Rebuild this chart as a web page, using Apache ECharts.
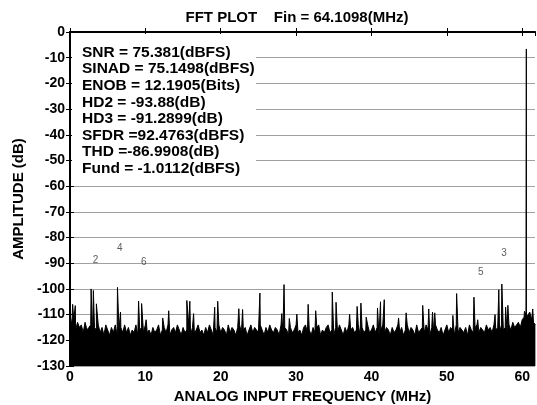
<!DOCTYPE html>
<html>
<head>
<meta charset="utf-8">
<script src="https://cdn.jsdelivr.net/npm/echarts@6/dist/echarts.min.js"></script>
<style>
html,body{margin:0;padding:0;background:#fff;}
#c{width:537px;height:405px;}
</style>
</head>
<body>
<div id="c"></div>
<script>
// Title and axis texts
const titleText = 'FFT PLOT    Fin = 64.1098(MHz)';
const xName = 'ANALOG INPUT FREQUENCY (MHz)';
const yName = 'AMPLITUDE (dB)';
const xTicks = [0, 10, 20, 30, 40, 50, 60];
const yTicks = [0, -10, -20, -30, -40, -50, -60, -70, -80, -90, -100, -110, -120, -130];

// Noise floor, one value every 0.25 MHz starting at 0 MHz
const floorStep = 0.25;
const noiseFloor = [
  -110, -114, -112, -116, -113, -115, -114, -117, -113, -116,
  -115, -114, -118, -115, -116, -114, -117, -115, -118, -114,
  -116, -118, -115, -117, -114, -118, -116, -115, -117, -114,
  -117, -115, -118, -116, -117, -114, -118, -116, -115, -117,
  -114, -117, -116, -118, -115, -117, -116, -114, -118, -116,
  -115, -117, -114, -118, -116, -115, -117, -114, -116, -118,
  -115, -117, -116, -114, -118, -115, -117, -116, -114, -117,
  -116, -118, -115, -117, -114, -116, -118, -115, -117, -114,
  -117, -115, -116, -118, -114, -117, -115, -116, -118, -115,
  -114, -117, -116, -115, -118, -116, -114, -117, -115, -116,
  -117, -114, -116, -118, -115, -117, -114, -116, -117, -115,
  -116, -118, -114, -117, -115, -116, -118, -115, -117, -116,
  -114, -117, -116, -118, -115, -114, -117, -116, -118, -115,
  -117, -115, -114, -118, -116, -117, -115, -114, -117, -116,
  -118, -115, -117, -114, -116, -118, -115, -117, -114, -116,
  -115, -117, -116, -114, -118, -115, -117, -116, -114, -117,
  -116, -114, -117, -115, -118, -116, -114, -117, -115, -116,
  -118, -115, -117, -116, -114, -117, -115, -118, -116, -114,
  -117, -115, -116, -118, -114, -117, -116, -115, -117, -114,
  -116, -118, -115, -117, -114, -116, -117, -115, -118, -116,
  -114, -117, -115, -116, -118, -114, -117, -115, -116, -117,
  -115, -118, -114, -116, -117, -115, -114, -117, -115, -116,
  -117, -114, -116, -115, -117, -114, -116, -115, -117, -114,
  -116, -115, -117, -114, -116, -113, -115, -114, -113, -115,
  -112, -111, -110, -111, -109, -112, -113, -114
];

// Spurs and the fundamental: [frequency MHz, amplitude dB]
const spurs = [
  [0.35, -106], [0.7, -106.5], [2.8, -100], [3.1, -100.6], [3.5, -105.8],
  [6.3, -99.4], [6.7, -109], [9.1, -104.7], [9.5, -105.7], [10.1, -112],
  [12.3, -111.3], [13.1, -108.5], [15.5, -104.5], [15.9, -104.8], [16.4, -109.6],
  [19.2, -107.1], [19.6, -104.8], [22.4, -107.7], [22.9, -108], [25.2, -101.6],
  [28.1, -109.6], [28.4, -98.3], [29.1, -111.5], [30.1, -109.8], [31.6, -106],
  [32.6, -108.5], [34.8, -101.2], [35.3, -105.2], [37.1, -109.8], [38.1, -106.8],
  [38.6, -105.5], [39.3, -111], [40.8, -107.4], [41.2, -105], [41.7, -104.2],
  [43.6, -111.3], [44.6, -109.3], [46.8, -106.4], [47.6, -107.8], [48.1, -109],
  [48.4, -109.3], [50.8, -110.3], [51.3, -101.8], [53.6, -103.2], [54.1, -112],
  [56.4, -110], [56.9, -100.3], [57.3, -98.1], [57.8, -107.1], [58.1, -106.4],
  [60.3, -108.7], [60.53, -110], [60.55, -6.6], [60.57, -111], [60.8, -110], [61.4, -107.8]
];

// Harmonic markers: [frequency MHz, amplitude dB, label]
const harmonicMarks = [
  [3.4, -88.8, '2'], [6.6, -84.0, '4'], [9.8, -89.7, '6'],
  [57.6, -86.2, '3'], [54.5, -93.6, '5']
];

// Measurement annotation lines
const statLines = [
  'SNR = 75.381(dBFS)',
  'SINAD = 75.1498(dBFS)',
  'ENOB = 12.1905(Bits)',
  'HD2 = -93.88(dB)',
  'HD3 = -91.2899(dB)',
  'SFDR =92.4763(dBFS)',
  'THD =-86.9908(dB)',
  'Fund = -1.0112(dBFS)'
];

const xMin = 0, xMax = 61.7, yMin = -130, yMax = 0;

const spectrum = noiseFloor.map((v, i) => [i * floorStep, v]).concat(spurs)
  .sort((a, b) => a[0] - b[0]);

const FONT = '"Liberation Sans", Arial, Helvetica, sans-serif';

const chart = echarts.init(document.getElementById('c'), null, {renderer: 'canvas'});

const statGraphics = [{
  type: 'rect', z: 100,
  shape: {x: 72, y: 34, width: 184, height: 151},
  style: {fill: '#ffffff'}
}].concat(statLines.map((t, i) => ({
  type: 'text', z: 101,
  style: {
    x: 82, y: 52.5 + i * 16.6,
    text: t, fill: '#000',
    font: 'bold 15.5px ' + FONT,
    textVerticalAlign: 'middle', verticalAlign: 'middle'
  }
})));

const axisLine = {show: true, lineStyle: {color: '#000', width: 2}};

chart.setOption({
  animation: false,
  backgroundColor: '#fff',
  title: {
    text: titleText, left: 292, top: 5, textAlign: 'center',
    textStyle: {fontFamily: FONT, fontWeight: 'bold', fontSize: 15, color: '#000'}
  },
  grid: {left: 70, right: 2, top: 32, bottom: 39, containLabel: false, outerBoundsMode: 'none'},
  xAxis: [{
    type: 'value', min: xMin, max: xMax, interval: 10, position: 'bottom',
    axisLine: axisLine,
    axisTick: {show: true, inside: true, length: 4, lineStyle: {color: '#000'}},
    axisLabel: {
      fontFamily: FONT, fontWeight: 'bold', fontSize: 14, color: '#000', margin: 4,
      showMaxLabel: false,
      formatter: v => xTicks.indexOf(v) >= 0 ? String(v) : ''
    },
    splitLine: {show: false},
    name: xName, nameLocation: 'middle', nameGap: 20,
    nameTextStyle: {fontFamily: FONT, fontWeight: 'bold', fontSize: 15, color: '#000'}
  }, {
    type: 'value', min: xMin, max: xMax, interval: 10, position: 'top',
    axisLine: {show: true, lineStyle: {color: '#000', width: 1.5}},
    axisTick: {show: true, inside: true, length: 4, lineStyle: {color: '#000'}},
    axisLabel: {show: false}, splitLine: {show: false}
  }],
  yAxis: [{
    type: 'value', min: yMin, max: yMax, interval: 10, position: 'left',
    axisLine: axisLine,
    axisTick: {show: true, inside: true, length: 4, lineStyle: {color: '#000'}},
    axisLabel: {
      fontFamily: FONT, fontWeight: 'bold', fontSize: 14, color: '#000', margin: 5,
      formatter: v => yTicks.indexOf(v) >= 0 ? String(v) : ''
    },
    splitLine: {show: true, lineStyle: {color: '#a0a0a0', width: 1}},
    name: yName, nameLocation: 'middle', nameGap: 37, nameRotate: 90,
    nameTextStyle: {fontFamily: FONT, fontWeight: 'bold', fontSize: 15, color: '#000'}
  }, {
    type: 'value', min: yMin, max: yMax, interval: 10, position: 'right',
    axisLine: {show: true, lineStyle: {color: '#000', width: 1.5}},
    axisTick: {show: true, inside: true, length: 4, lineStyle: {color: '#000'}},
    axisLabel: {show: false}, splitLine: {show: false}
  }],
  series: [{
    type: 'line',
    data: spectrum,
    showSymbol: false, symbol: 'none',
    sampling: null,
    lineStyle: {color: '#000', width: 1},
    areaStyle: {color: '#000', opacity: 1, origin: 'start'},
    z: 3
  }, {
    type: 'scatter',
    data: harmonicMarks,
    symbolSize: 0,
    label: {
      show: true, position: 'inside',
      formatter: p => p.value[2],
      fontFamily: FONT, fontSize: 10, color: '#333'
    },
    z: 4
  }],
  graphic: statGraphics
});
</script>
</body>
</html>
